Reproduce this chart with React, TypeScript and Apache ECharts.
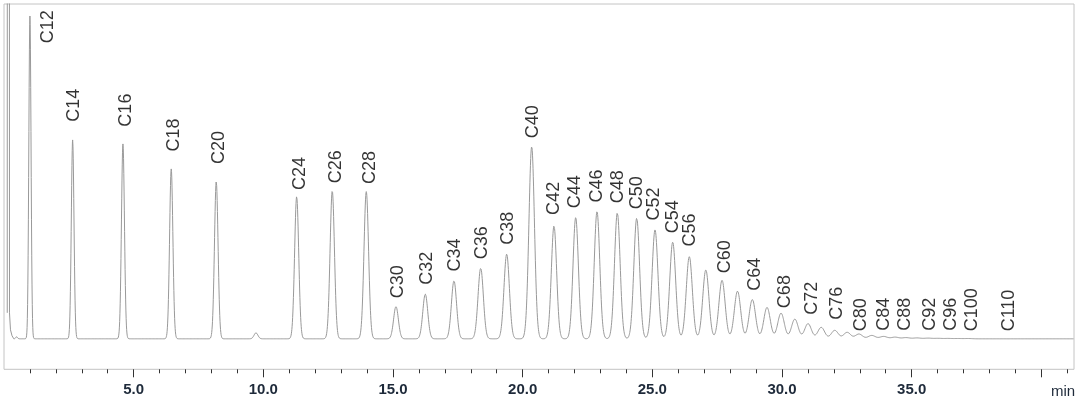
import React, { useEffect, useRef } from "react";
import * as echarts from "echarts";

// Peak table (retention time in min, height in arbitrary units, FWHM in min)
const peakNames = ["-", "C12", "C14", "C16", "C18", "C20", "C22", "C24", "C26", "C28", "C30", "C32", "C34", "C36", "C38", "C40",
  "C42", "C44", "C46", "C48", "C50", "C52", "C54", "C56", "C58", "C60", "C62", "C64", "C66", "C68", "C70", "C72",
  "C74", "C76", "C78", "C80", "C82", "C84", "C86", "C88", "C90", "C92", "C94", "C96", "C98", "C100"];
const peakTimes = [0.487, 1.0, 2.647, 4.587, 6.449, 8.185, 9.716, 11.285, 12.658, 13.97, 15.115, 16.245, 17.352, 18.382, 19.384, 20.348,
  21.208, 22.045, 22.867, 23.65, 24.398, 25.104, 25.786, 26.426, 27.063, 27.688, 28.285, 28.856, 29.423, 29.963, 30.495, 31.004,
  31.513, 32.034, 32.512, 32.967, 33.461, 33.916, 34.359, 34.784, 35.208, 35.632, 36.018, 36.403, 36.789, 37.175];
const peakHeights = [2, 323, 199, 195, 170, 157.3, 6, 142.3, 148, 147.3, 32.3, 44.7, 58, 70.7, 84.7, 192.3,
  113, 121.3, 127.3, 126, 120.7, 109, 96.7, 82.3, 69, 58.5, 47.7, 39.3, 31.4, 25.7, 19.7, 15.2,
  11.5, 8.5, 6.5, 4.8, 3.4, 2.4, 1.7, 1.2, 0.9, 0.7, 0.5, 0.4, 0.3, 0.3];
const peakWidths = [0.08, 0.1, 0.121, 0.136, 0.15, 0.163, 0.175, 0.187, 0.198, 0.208, 0.217, 0.226, 0.234, 0.242, 0.245, 0.25,
  0.24, 0.245, 0.25, 0.255, 0.26, 0.265, 0.269, 0.274, 0.278, 0.282, 0.286, 0.29, 0.293, 0.297, 0.3, 0.304,
  0.307, 0.31, 0.314, 0.316, 0.32, 0.323, 0.326, 0.328, 0.331, 0.334, 0.336, 0.339, 0.341, 0.344];

// Solvent peak (goes off scale)
const solventTimes = [0.125, 0.13, 0.205, 0.212, 0.25, 0.31, 0.38];
const solventValues = [26, 900, 900, 26, 9, 3, 0];

// Peak annotations
const labelNames = ["C12", "C14", "C16", "C18", "C20", "C24", "C26", "C28", "C30", "C32", "C34", "C36", "C38", "C40",
  "C42", "C44", "C46", "C48", "C50", "C52", "C54", "C56", "C60", "C64", "C68", "C72", "C76", "C80", "C84", "C88",
  "C92", "C96", "C100", "C110"];
const labelTimes = [1.644, 2.67, 4.664, 6.526, 8.262, 11.374, 12.762, 14.074, 15.142, 16.272, 17.352, 18.382, 19.407, 20.371,
  21.181, 21.991, 22.816, 23.626, 24.37, 25.038, 25.747, 26.414, 27.776, 28.902, 30.059, 31.1, 32.064, 33.009, 33.897, 34.707,
  35.671, 36.481, 37.29, 38.717];
const labelLevels = [295.7, 217.3, 212.3, 187.3, 175, 149, 155.7, 155, 40.7, 54, 67.3, 79.7, 94, 200.7,
  124, 130.7, 136.3, 135.7, 129.7, 118.3, 105.7, 92.3, 65.7, 48, 30.7, 24, 19, 7.5, 8, 8,
  8, 8, 7.5, 7.5];

// Axis ticks
const majorTicks = [5, 10, 15, 20, 25, 30, 35, 40];
const tickLabels = [5, 10, 15, 20, 25, 30, 35];
const minorTicks = [1, 2, 3, 4, 6, 7, 8, 9, 11, 12, 13, 14, 16, 17, 18, 19, 21, 22, 23, 24, 26, 27, 28, 29,
  31, 32, 33, 34, 36, 37, 38, 39, 41];

const X_MAX = 41.26;

function buildTrace(): [number, number][] {
  const pts: [number, number][] = [];
  for (let i = 0; i < solventTimes.length; i++) pts.push([solventTimes[i], solventValues[i]]);
  const ts: number[] = [];
  for (let k = 40; k <= Math.floor(X_MAX * 100); k++) ts.push(k / 100);
  peakTimes.forEach((t) => ts.push(t));
  ts.sort((a, b) => a - b);
  for (const t of ts) {
    let y = 0;
    for (let i = 0; i < peakTimes.length; i++) {
      const s = peakWidths[i] / 2.3548;
      const d = (t - peakTimes[i]) / s;
      if (Math.abs(d) < 6) y += peakHeights[i] * Math.exp(-0.5 * d * d);
    }
    pts.push([t, y]);
  }
  return pts;
}

export default function App() {
  const ref = useRef<HTMLDivElement>(null);
  useEffect(() => {
    if (!ref.current) return;
    const chart = echarts.init(ref.current, null, { renderer: "svg" });
    const font = "'Liberation Sans', Arial, sans-serif";
    chart.setOption({
      animation: false,
      grid: {
        left: 4, right: 6, top: 4, bottom: 29.7,
        show: true, borderColor: "#c4c4c4", borderWidth: 1,
      },
      xAxis: [
        {
          type: "value", min: 0, max: X_MAX, interval: 5, position: "bottom",
          axisLine: { show: false, onZero: false },
          splitLine: { show: false },
          axisTick: { show: true, length: 8, customValues: majorTicks, lineStyle: { color: "#333", width: 1 } },
          axisLabel: {
            show: true, customValues: tickLabels, margin: 12,
            formatter: (v: number) => v.toFixed(1),
            fontSize: 15, fontWeight: "bold", fontFamily: font, color: "#1e2a3a",
          },
        },
        {
          type: "value", min: 0, max: X_MAX, interval: 1, position: "bottom",
          axisLine: { show: false, onZero: false },
          splitLine: { show: false },
          axisTick: { show: true, length: 4, customValues: minorTicks, lineStyle: { color: "#333", width: 1 } },
          axisLabel: { show: false },
        },
      ],
      yAxis: { type: "value", min: -30.5, max: 335, show: false },
      graphic: [
        {
          type: "text", x: 1063, y: 390,
          style: { text: "min", align: "center", verticalAlign: "middle", fontSize: 15, fontFamily: font, fill: "#1e2a3a" },
        },
      ],
      series: [
        {
          type: "line",
          data: buildTrace(),
          xAxisIndex: 0,
          showSymbol: false,
          symbol: "none",
          silent: true,
          clip: true,
          lineStyle: { color: "#999", width: 1 },
        },
        {
          type: "scatter",
          xAxisIndex: 0,
          symbolSize: 1,
          itemStyle: { color: "rgba(0,0,0,0)" },
          silent: true,
          data: labelNames.map((n, i) => ({ value: [labelTimes[i], labelLevels[i]], name: n })),
          label: {
            show: true,
            position: "inside",
            formatter: (p: any) => p.name,
            rotate: 90,
            align: "left",
            verticalAlign: "middle",
            fontSize: 18,
            fontFamily: font,
            color: "#000",
          },
        },
      ],
    });
    return () => chart.dispose();
  }, []);
  return <div ref={ref} style={{ position: "fixed", left: 0, top: 0, width: 1080, height: 399 }} />;
}
